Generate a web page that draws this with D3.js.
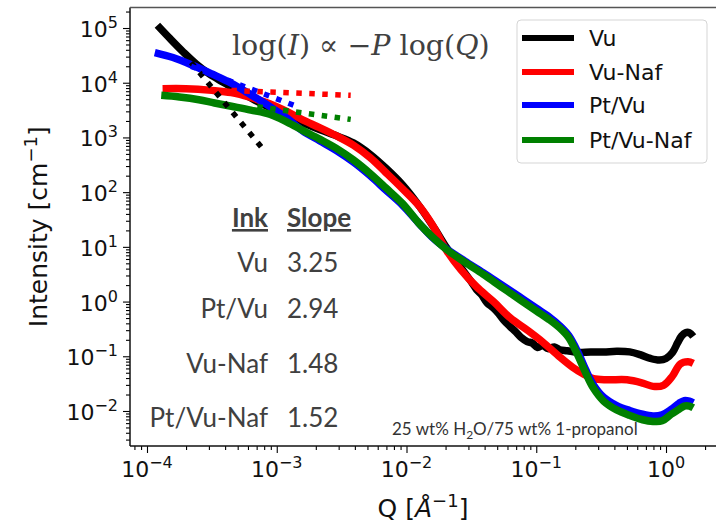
<!DOCTYPE html>
<meta charset="utf-8">
<style>
body { margin: 0; background: #fff; }
svg { display: block; }
</style>
<body>
<script src="https://cdn.jsdelivr.net/npm/d3@7"></script>
<script>

// data as log10 values
var seriesNames = ["Vu", "Vu-Naf", "Pt/Vu", "Pt/Vu-Naf"];
var seriesColors = ["#000000", "#ff0000", "#0000ff", "#008000"];

var vuLogQ = [-3.92,-3.82,-3.72,-3.62,-3.52,-3.42,-3.30,-3.15,-3.00,-2.85,-2.70,-2.54,-2.41,-2.28,-2.16,-2.03,-1.90,-1.78,-1.69,-1.58,-1.50,-1.46,-1.42,-1.38,-1.33,-1.29,-1.25,-1.20,-1.16,-1.12,-1.07,-1.03,-0.99,-0.95,-0.91,-0.86,-0.82,-0.76,-0.68,-0.58,-0.48,-0.38,-0.28,-0.20,-0.12,-0.05,0.00,0.05,0.09,0.12,0.15,0.18,0.21];
var vuLogI = [5.05,4.80,4.56,4.34,4.16,4.02,3.86,3.66,3.49,3.32,3.17,3.03,2.90,2.69,2.44,2.13,1.74,1.32,0.98,0.62,0.36,0.22,0.12,-0.02,-0.12,-0.22,-0.34,-0.46,-0.55,-0.65,-0.73,-0.76,-0.84,-0.80,-0.86,-0.83,-0.88,-0.90,-0.93,-0.92,-0.92,-0.91,-0.92,-0.97,-1.04,-1.07,-1.04,-0.93,-0.75,-0.63,-0.57,-0.57,-0.64];

var vuNafLogQ = [-3.88,-3.70,-3.50,-3.35,-3.20,-3.05,-2.92,-2.80,-2.67,-2.54,-2.41,-2.28,-2.16,-2.03,-1.90,-1.80,-1.69,-1.58,-1.46,-1.33,-1.20,-1.07,-0.95,-0.82,-0.72,-0.64,-0.56,-0.45,-0.30,-0.18,-0.10,-0.02,0.05,0.11,0.17,0.21];
var vuNafLogI = [3.89,3.89,3.86,3.82,3.73,3.61,3.47,3.32,3.18,3.03,2.86,2.63,2.36,2.06,1.74,1.40,0.93,0.58,0.27,0.00,-0.30,-0.52,-0.74,-1.01,-1.20,-1.32,-1.41,-1.43,-1.43,-1.49,-1.55,-1.53,-1.36,-1.14,-1.10,-1.13];

var ptVuLogQ = [-3.94,-3.80,-3.65,-3.50,-3.35,-3.20,-3.05,-2.92,-2.80,-2.67,-2.54,-2.41,-2.28,-2.16,-2.03,-1.90,-1.80,-1.69,-1.55,-1.41,-1.27,-1.13,-1.00,-0.90,-0.82,-0.75,-0.68,-0.62,-0.56,-0.48,-0.38,-0.28,-0.18,-0.10,-0.03,0.04,0.10,0.14,0.18,0.21];
var ptVuLogI = [4.55,4.46,4.32,4.16,3.99,3.78,3.56,3.35,3.12,2.94,2.76,2.55,2.30,2.04,1.76,1.42,1.17,0.96,0.74,0.53,0.31,0.09,-0.12,-0.28,-0.44,-0.62,-0.92,-1.24,-1.52,-1.75,-1.90,-1.99,-2.06,-2.09,-2.07,-1.97,-1.86,-1.81,-1.82,-1.85];

var ptVuNafLogQ = [-3.89,-3.75,-3.60,-3.48,-3.35,-3.20,-3.05,-2.92,-2.80,-2.67,-2.54,-2.41,-2.28,-2.16,-2.03,-1.90,-1.80,-1.69,-1.55,-1.41,-1.27,-1.13,-1.00,-0.90,-0.82,-0.75,-0.68,-0.62,-0.56,-0.48,-0.38,-0.28,-0.18,-0.10,-0.03,0.04,0.10,0.14,0.18,0.21];
var ptVuNafLogI = [3.77,3.74,3.69,3.63,3.57,3.50,3.42,3.28,3.13,2.97,2.80,2.59,2.34,2.08,1.79,1.42,1.18,0.95,0.72,0.50,0.27,0.04,-0.17,-0.33,-0.48,-0.66,-0.98,-1.30,-1.58,-1.82,-1.98,-2.08,-2.16,-2.19,-2.18,-2.06,-1.97,-1.91,-1.91,-1.94];

// power-law fits (dotted), start / end in log10
var fitLogQ = [[-3.66,-3.12],[-3.35,-2.43],[-3.66,-2.86],[-3.15,-2.43]];
var fitLogI = [[4.37,2.83],[3.86,3.77],[4.30,3.58],[3.56,3.33]];

var tableInk = ["Vu", "Pt/Vu", "Vu-Naf", "Pt/Vu-Naf"];
var tableSlope = ["3.25", "2.94", "1.48", "1.52"];

var xMajor = [-4, -3, -2, -1, 0];
var yMajor = [-2, -1, 0, 1, 2, 3, 4, 5];

var width = 716, height = 523;
var plot = {left: 130, right: 717, top: 7.5, bottom: 446};

var x = d3.scaleLog()
    .domain([Math.pow(10, -4.131), Math.pow(10, 0.393)])
    .range([plot.left, plot.right]);
var y = d3.scaleLog()
    .domain([Math.pow(10, -2.64), Math.pow(10, 5.375)])
    .range([plot.bottom, plot.top]);

var svg = d3.select("body").append("svg")
    .attr("width", width)
    .attr("height", height);

svg.append("clipPath").attr("id", "clip")
  .append("rect")
    .attr("x", plot.left).attr("y", plot.top)
    .attr("width", plot.right - plot.left).attr("height", plot.bottom - plot.top);

// minor tick values
function minors(scale) {
  var d = scale.domain(), out = [];
  var lo = Math.floor(Math.log10(d[0])), hi = Math.ceil(Math.log10(d[1]));
  for (var e = lo; e <= hi; e++)
    for (var k = 2; k <= 9; k++) {
      var v = k * Math.pow(10, e);
      if (v >= d[0] && v <= d[1]) out.push(v);
    }
  return out;
}

// axes
svg.append("g")
    .attr("transform", "translate(0," + plot.bottom + ")")
    .call(d3.axisBottom(x).tickValues(minors(x)).tickSize(4).tickFormat(""))
    .call(function(g) { g.select(".domain").remove(); });
svg.append("g")
    .attr("transform", "translate(0," + plot.bottom + ")")
    .call(d3.axisBottom(x).tickValues(xMajor.map(function(e) { return Math.pow(10, e); })).tickSize(7).tickFormat(""))
    .call(function(g) { g.select(".domain").remove(); });
svg.append("g")
    .attr("transform", "translate(" + plot.left + ",0)")
    .call(d3.axisLeft(y).tickValues(minors(y)).tickSize(4).tickFormat(""))
    .call(function(g) { g.select(".domain").remove(); });
svg.append("g")
    .attr("transform", "translate(" + plot.left + ",0)")
    .call(d3.axisLeft(y).tickValues(yMajor.map(function(e) { return Math.pow(10, e); })).tickSize(7).tickFormat(""))
    .call(function(g) { g.select(".domain").remove(); });
svg.selectAll(".tick line").attr("stroke", "#000").attr("stroke-width", 1.1);

function powLabel(sel, e) {
  sel.append("tspan").text("10");
  sel.append("tspan")
      .attr("font-size", 16)
      .attr("dy", -9)
      .text(e < 0 ? "\u2212" + (-e) : "" + e);
}

svg.selectAll(".xlab")
    .data(xMajor)
  .enter().append("text")
    .attr("class", "xlab")
    .attr("x", function(e) { return x(Math.pow(10, e)); })
    .attr("y", 477)
    .attr("text-anchor", "middle")
    .attr("font-family", "DejaVu Sans")
    .attr("font-size", 22)
    .attr("fill", "#111")
    .each(function(e) { powLabel(d3.select(this), e); });

svg.selectAll(".ylab")
    .data(yMajor)
  .enter().append("text")
    .attr("class", "ylab")
    .attr("x", 118)
    .attr("y", function(e) { return y(Math.pow(10, e)) + 9; })
    .attr("text-anchor", "end")
    .attr("font-family", "DejaVu Sans")
    .attr("font-size", 22)
    .attr("fill", "#111")
    .each(function(e) { powLabel(d3.select(this), e); });

// spines
svg.append("line").attr("x1", plot.left).attr("x2", plot.left).attr("y1", plot.top).attr("y2", plot.bottom)
    .attr("stroke", "#111").attr("stroke-width", 1.5);
svg.append("line").attr("x1", plot.left).attr("x2", plot.right).attr("y1", plot.bottom).attr("y2", plot.bottom)
    .attr("stroke", "#111").attr("stroke-width", 1.5);
svg.append("line").attr("x1", plot.left).attr("x2", plot.right).attr("y1", plot.top).attr("y2", plot.top)
    .attr("stroke", "#555").attr("stroke-width", 1.5);

// axis titles
var ylab = svg.append("text")
    .attr("transform", "translate(47," + ((plot.top + plot.bottom) / 2) + ") rotate(-90)")
    .attr("text-anchor", "middle")
    .attr("font-family", "DejaVu Sans")
    .attr("font-size", 25)
    .attr("fill", "#111");
ylab.append("tspan").text("Intensity [cm");
ylab.append("tspan").attr("font-size", 18).attr("dy", -10).text("\u22121");
ylab.append("tspan").attr("dy", 10).text("]");

var xlab = svg.append("text")
    .attr("x", 423)
    .attr("y", 517)
    .attr("text-anchor", "middle")
    .attr("font-family", "DejaVu Sans")
    .attr("font-size", 25)
    .attr("fill", "#111");
xlab.append("tspan").text("Q [");
xlab.append("tspan").attr("font-style", "italic").text("\u00c5");
xlab.append("tspan").attr("font-size", 18).attr("dy", -10).text("\u22121");
xlab.append("tspan").attr("dy", 10).text("]");

// curves
var logQs = [vuLogQ, vuNafLogQ, ptVuLogQ, ptVuNafLogQ];
var logIs = [vuLogI, vuNafLogI, ptVuLogI, ptVuNafLogI];

var line = d3.line()
    .x(function(d) { return x(d[0]); })
    .y(function(d) { return y(d[1]); })
    .curve(d3.curveCatmullRom);

var curves = svg.append("g").attr("clip-path", "url(#clip)");

seriesNames.forEach(function(name, i) {
  var pts = logQs[i].map(function(lq, j) { return [Math.pow(10, lq), Math.pow(10, logIs[i][j])]; });
  curves.append("path")
      .datum(pts)
      .attr("fill", "none")
      .attr("stroke", seriesColors[i])
      .attr("stroke-width", 7.5)
      .attr("stroke-linejoin", "round")
      .attr("d", line);
});

seriesNames.forEach(function(name, i) {
  var pts = fitLogQ[i].map(function(lq, j) { return [Math.pow(10, lq), Math.pow(10, fitLogI[i][j])]; });
  curves.append("path")
      .datum(pts)
      .attr("fill", "none")
      .attr("stroke", seriesColors[i])
      .attr("stroke-width", 5.5)
      .attr("stroke-dasharray", "5.5,7.5")
      .attr("d", d3.line().x(function(d) { return x(d[0]); }).y(function(d) { return y(d[1]); }));
});

// formula
var f = svg.append("text")
    .attr("x", 232)
    .attr("y", 55)
    .attr("font-family", "DejaVu Serif, serif")
    .attr("font-size", 28.5)
    .attr("fill", "#404040");
f.append("tspan").text("log(");
f.append("tspan").attr("font-style", "italic").text("I");
f.append("tspan").text(") \u221d \u2212");
f.append("tspan").attr("font-style", "italic").text("P");
f.append("tspan").text(" log(");
f.append("tspan").attr("font-style", "italic").text("Q");
f.append("tspan").text(")");

// slope table
var tableFont = "Lato, 'Open Sans', sans-serif";
svg.append("text")
    .attr("x", 268).attr("y", 227)
    .attr("text-anchor", "end")
    .attr("font-family", tableFont).attr("font-size", 26).attr("font-weight", "bold")
    .attr("text-decoration", "underline")
    .attr("fill", "#404040")
    .text("Ink");
svg.append("text")
    .attr("x", 287).attr("y", 227)
    .attr("font-family", tableFont).attr("font-size", 26).attr("font-weight", "bold")
    .attr("text-decoration", "underline")
    .attr("fill", "#404040")
    .text("Slope");

var rowY = [272, 318, 373, 427];
tableInk.forEach(function(t, i) {
  svg.append("text")
      .attr("x", 268).attr("y", rowY[i])
      .attr("text-anchor", "end")
      .attr("font-family", tableFont).attr("font-size", 26)
      .attr("fill", "#404040")
      .text(t);
  svg.append("text")
      .attr("x", 287).attr("y", rowY[i])
      .attr("font-family", tableFont).attr("font-size", 26)
      .attr("fill", "#404040")
      .text(tableSlope[i]);
});

// solvent note
var note = svg.append("text")
    .attr("x", 392).attr("y", 435)
    .attr("font-family", tableFont).attr("font-size", 17)
    .attr("fill", "#333");
note.append("tspan").text("25 wt% H");
note.append("tspan").attr("font-size", 12).attr("dy", 4).text("2");
note.append("tspan").attr("dy", -4).text("O/75 wt% 1-propanol");

// legend
var legend = svg.append("g");
legend.append("rect")
    .attr("x", 517).attr("y", 20)
    .attr("width", 190).attr("height", 143)
    .attr("rx", 4)
    .attr("fill", "#fff").attr("fill-opacity", 0.8)
    .attr("stroke", "#d5d5d5").attr("stroke-width", 1);
var legY = [38, 72, 105, 140];
seriesNames.forEach(function(name, i) {
  legend.append("line")
      .attr("x1", 522).attr("x2", 574)
      .attr("y1", legY[i]).attr("y2", legY[i])
      .attr("stroke", seriesColors[i]).attr("stroke-width", 6);
  legend.append("text")
      .attr("x", 589).attr("y", legY[i] + 8)
      .attr("font-family", "DejaVu Sans").attr("font-size", 22)
      .attr("fill", "#111")
      .text(name);
});

</script>
</body>
